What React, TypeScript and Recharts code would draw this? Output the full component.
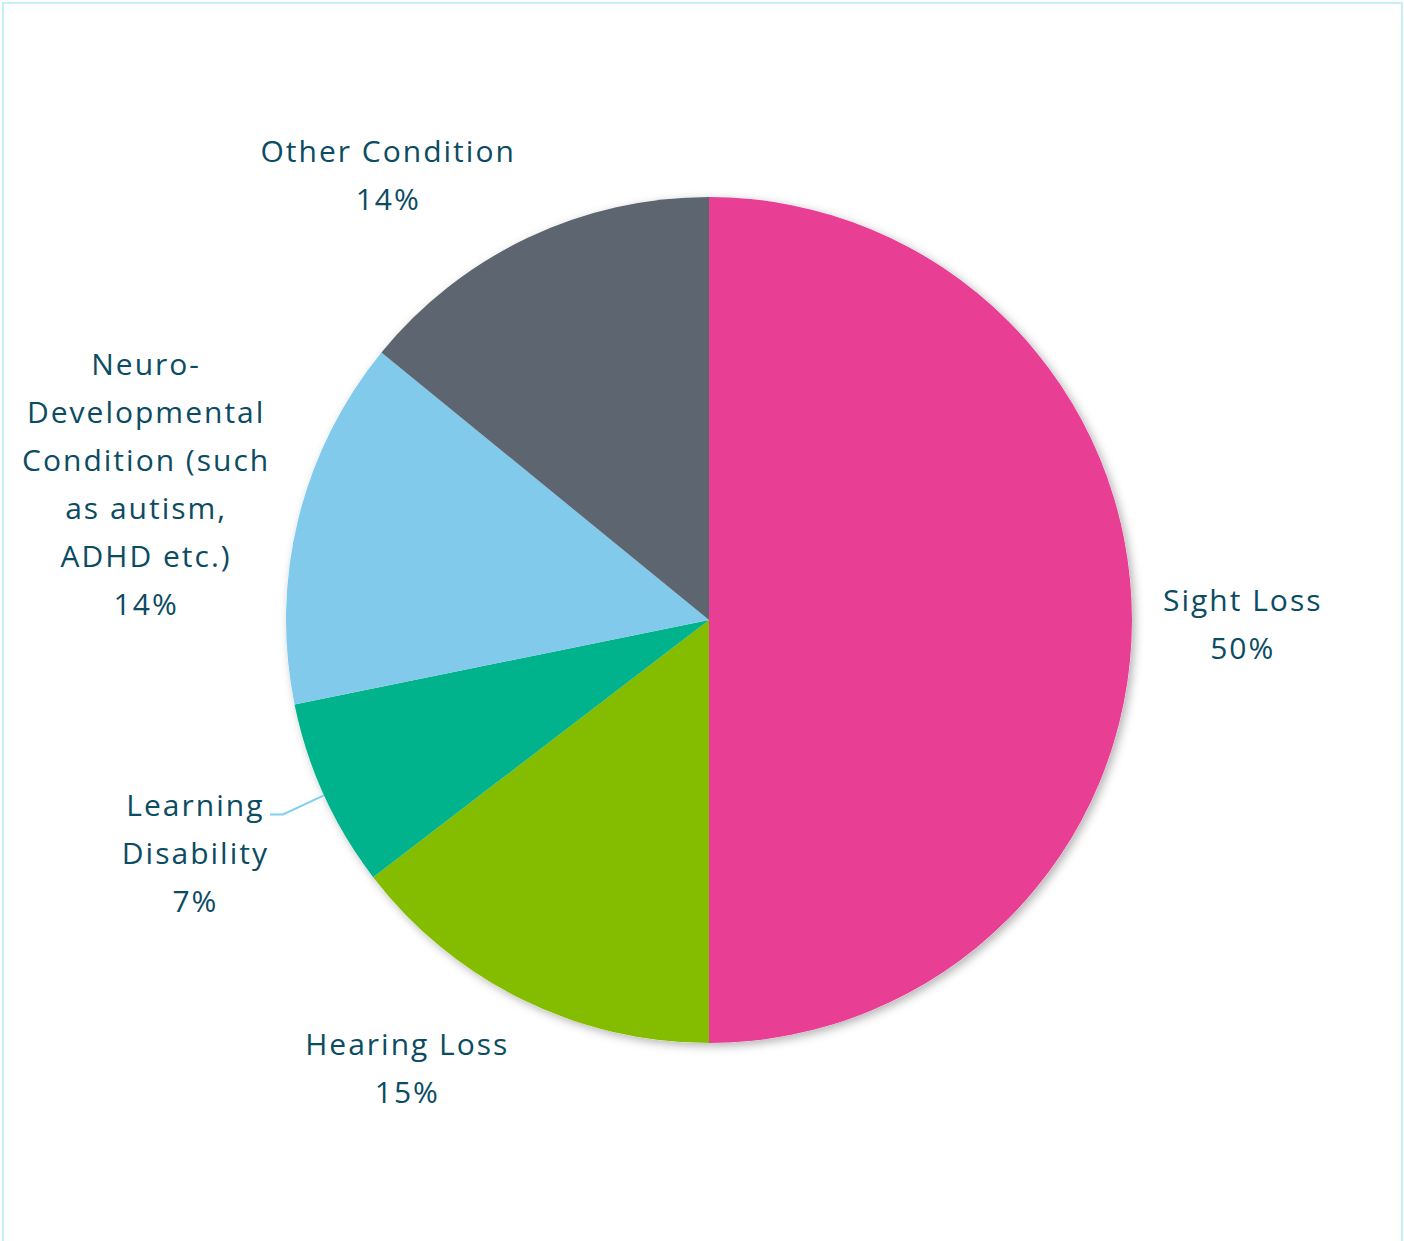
import { PieChart, Pie, Cell } from 'recharts';

const categories = ['Sight Loss', 'Hearing Loss', 'Learning Disability', 'Neuro-Developmental Condition (such as autism, ADHD etc.)', 'Other Condition'];
const values = [50, 14.6, 7.2, 14.1, 14.1];
const labelLines = [
  ['Sight Loss'],
  ['Hearing Loss'],
  ['Learning', 'Disability'],
  ['Neuro-', 'Developmental', 'Condition (such', 'as autism,', 'ADHD etc.)'],
  ['Other Condition'],
];
const colors = ['#E83E94', '#84BC00', '#00B38D', '#82CAEB', '#5D6670'];

const data = categories.map((name, i) => ({ name, value: values[i] }));

const FONT = "'Open Sans', sans-serif";
const FONT_SIZE = 30;
const LETTER_SPACING = 2;
const LINE_H = 48;
const TEXT_COLOR = '#0B4C63';
const RADIAN = Math.PI / 180;

let ctx: CanvasRenderingContext2D | null = null;
function measure(text: string) {
  if (!ctx) ctx = document.createElement('canvas').getContext('2d');
  if (!ctx) return text.length * FONT_SIZE * 0.6;
  ctx.font = `${FONT_SIZE}px ${FONT}`;
  return ctx.measureText(text).width + text.length * LETTER_SPACING;
}

function renderLabel(props: any) {
  const { cx, cy, midAngle, outerRadius, percent, index } = props;
  const dx = Math.cos(-midAngle * RADIAN);
  const dy = Math.sin(-midAngle * RADIAN);
  const small = percent < 0.1;
  const dist = outerRadius + (small ? 66 : 30);
  const px = cx + dist * dx;
  const py = cy + dist * dy;

  const lines = [...labelLines[index], `${Math.round(percent * 100)}%`];
  const w = Math.max(...lines.map(measure));
  const h = lines.length * LINE_H;
  const nudge = small ? 4 : 0;
  const centerX = dx >= 0 ? px + w / 2 : px - w / 2 + nudge;
  const centerY = py + (dy * h * 0.9) / 2 + 3;
  const top = centerY - h / 2;

  let leader = null;
  if (small) {
    const ex = cx + outerRadius * dx;
    const ey = cy + outerRadius * dy;
    const lx = dx >= 0 ? px - 2 : px + 6;
    const ly = top + LINE_H / 2 + 10;
    leader = (
      <polyline
        points={`${ex},${ey} ${lx + (dx >= 0 ? -13 : 13)},${ly} ${lx},${ly}`}
        fill="none"
        stroke="#7FD0F5"
        strokeWidth={2}
      />
    );
  }

  return (
    <g key={`label-${index}`}>
      {leader}
      {lines.map((line, i) => (
        <text
          key={i}
          x={centerX + LETTER_SPACING / 2}
          y={top + LINE_H * i + LINE_H / 2}
          textAnchor="middle"
          dominantBaseline="central"
          fill={TEXT_COLOR}
          fontFamily={FONT}
          fontSize={FONT_SIZE}
          letterSpacing={LETTER_SPACING}
        >
          {line}
        </text>
      ))}
    </g>
  );
}

export default function App() {
  return (
    <div style={{ position: 'absolute', left: 0, top: 0, width: 1404, height: 1241, overflow: 'hidden', background: '#fff' }}>
      <svg width={0} height={0} style={{ position: 'absolute' }}>
        <defs>
          <filter id="pieShadow" x="-20%" y="-20%" width="140%" height="140%">
            <feDropShadow dx={3} dy={3} stdDeviation={5} floodColor="#000" floodOpacity={0.3} />
          </filter>
        </defs>
      </svg>
      <div
        style={{
          position: 'absolute',
          left: 2,
          top: 2,
          width: 1401,
          height: 1300,
          border: '2px solid #C8EEFA',
          boxSizing: 'border-box',
        }}
      />
      <div style={{ position: 'absolute', left: 0, top: 0 }}>
        <PieChart width={1404} height={1241} margin={{ top: 0, right: 0, bottom: 0, left: 0 }}>
          <Pie
            data={data}
            dataKey="value"
            nameKey="name"
            cx={709}
            cy={620}
            outerRadius={423}
            startAngle={90}
            endAngle={-270}
            stroke="none"
            isAnimationActive={false}
          >
            {data.map((entry, i) => (
              <Cell key={`shadow-${i}`} fill="#ffffff" filter="url(#pieShadow)" />
            ))}
          </Pie>
          <Pie
            data={data}
            dataKey="value"
            nameKey="name"
            cx={709}
            cy={620}
            outerRadius={423}
            startAngle={90}
            endAngle={-270}
            stroke="none"
            label={renderLabel}
            labelLine={false}
            isAnimationActive={false}
          >
            {data.map((entry, i) => (
              <Cell key={`cell-${i}`} fill={colors[i]} />
            ))}
          </Pie>
        </PieChart>
      </div>
    </div>
  );
}
